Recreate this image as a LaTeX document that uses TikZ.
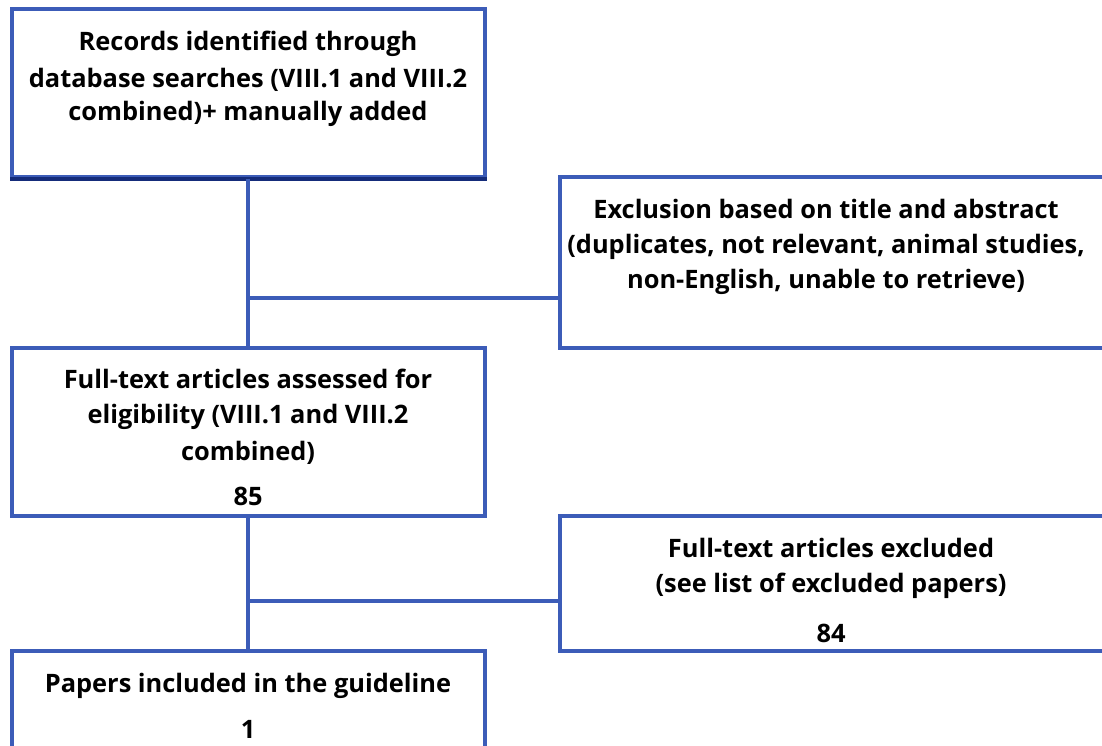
\documentclass[tikz,border=0pt]{standalone}
\usepackage{fontspec}
\setmainfont{Open Sans}
\usetikzlibrary{fit}
\definecolor{boxblue}{HTML}{3C5CB8}
\definecolor{boxnavy}{HTML}{152C7A}
\begin{document}
\begin{tikzpicture}[x=0.5pt,y=-0.5pt,
  box/.style={draw=boxblue,line width=2pt,inner sep=0pt,rectangle},
  conn/.style={draw=boxblue,line width=2pt},
  txt/.style={anchor=base,inner sep=0pt,font=\fontsize{12.7}{15}\selectfont\bfseries}]
\useasboundingbox (0,0) rectangle (1102,745);
\clip (0,0) rectangle (1102,745);
\node[box,fit={(12,9) (485,177)}] (A) {};
\node[box,fit={(560,177) (1112,348)}] (B) {};
\node[box,fit={(12,348) (485,516)}] (C) {};
\node[box,fit={(560,516) (1112,651)}] (D) {};
\node[box,fit={(12,651) (485,760)}] (E) {};
\draw[boxnavy,line width=2pt] (A.south west) -- (A.south east);
% connectors
\coordinate (j1) at (248,298);
\coordinate (j2) at (248,601);
\draw[conn] (A.south -| j1) -- (C.north -| j1);
\draw[conn] (j1) -- (j1 -| B.west);
\draw[conn] (C.south -| j2) -- (E.north -| j2);
\draw[conn] (j2) -- (j2 -| D.west);
% texts
\node[txt] (a1) at (248,50) {Records identified through};
\node[txt] (a2) at (248,87) {database searches (VIII.1 and VIII.2};
\node[txt] (a3) at (248,120) {combined)+ manually added};
\node[txt] (b1) at (826,218) {Exclusion based on title and abstract};
\node[txt] (b2) at (826,253) {(duplicates, not relevant, animal studies,};
\node[txt] (b3) at (826,288) {non-English, unable to retrieve)};
\node[txt] (c1) at (248,388) {Full-text articles assessed for};
\node[txt] (c2) at (248,423) {eligibility (VIII.1 and VIII.2};
\node[txt] (c3) at (248,460) {combined)};
\node[txt] (c4) at (248,505) {85};
\node[txt] (d1) at (831,557) {Full-text articles excluded};
\node[txt] (d2) at (831,592) {(see list of excluded papers)};
\node[txt] (d3) at (831,642) {84};
\node[txt] (e1) at (248,692) {Papers included in the guideline};
\node[txt] (e2) at (248,738) {1};
\end{tikzpicture}
\end{document}
